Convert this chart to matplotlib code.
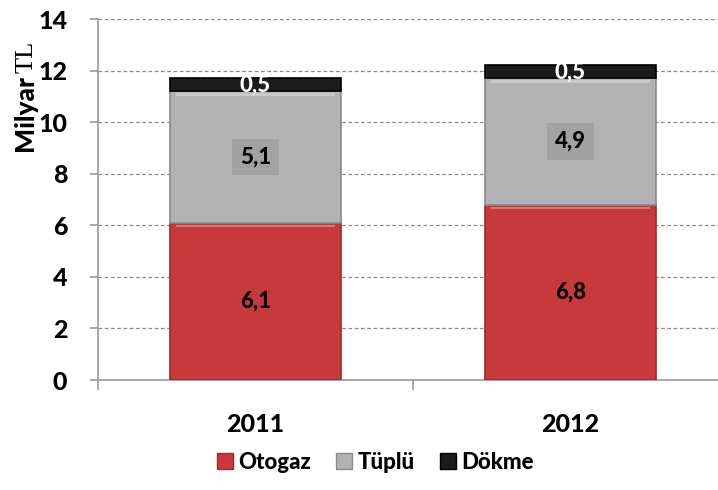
import numpy as np
import matplotlib
matplotlib.use("Agg")
import matplotlib.pyplot as plt
from matplotlib.lines import Line2D

years = ["2011", "2012"]
otogaz = [6.1, 6.8]
tuplu = [5.1, 4.9]
dokme = [0.5, 0.5]
series_names = ["Otogaz", "Tüplü", "Dökme"]
colors = ["#c8393b", "#b2b2b2", "#1c1c1c"]
edges = ["#9e2a2c", "#8a8a8a", "#000000"]

plt.rcParams["font.family"] = ["Lato", "DejaVu Sans"]
WT = "black"

fig = plt.figure(figsize=(7.18, 4.90), dpi=100)
ax = fig.add_axes([98 / 718, 1 - 380 / 490, 630 / 718, 361 / 490])

x = np.arange(len(years))
w = 0.54
bottoms = np.zeros(len(years))
for k, (vals, c, ec) in enumerate(zip([otogaz, tuplu, dokme], colors, edges)):
    ax.bar(x, vals, w, bottom=bottoms, color=c, edgecolor=ec, linewidth=1.2, zorder=3)
    if k < 2:
        # light bevel along the top of the red and grey segments
        ax.bar(x, [0.1] * len(x), w * 0.94, bottom=bottoms + np.array(vals) - 0.18,
               color="white", alpha=0.3, linewidth=0, zorder=4)
    bottoms = bottoms + np.array(vals)

fmt = lambda v: ("%.1f" % v).replace(".", ",")
for i in range(len(years)):
    ax.text(x[i], otogaz[i] / 2, fmt(otogaz[i]), ha="center", va="center",
            fontsize=16, fontweight=WT, color="black", zorder=5)
    ax.text(x[i], otogaz[i] + tuplu[i] / 2, fmt(tuplu[i]), ha="center", va="center",
            fontsize=16, fontweight=WT, color="black", zorder=5,
            bbox=dict(boxstyle="square,pad=0.35", facecolor="#a2a2a2", edgecolor="none"))
    ax.text(x[i], otogaz[i] + tuplu[i] + dokme[i] / 2, fmt(dokme[i]), ha="center", va="center",
            fontsize=16, fontweight=WT, color="white", zorder=5)

ax.set_ylim(0, 14)
ax.set_xlim(-0.5, 1.5)
ax.set_yticks(np.arange(0, 15, 2))
ax.set_yticklabels([str(v) for v in range(0, 15, 2)], fontsize=18, fontweight=WT)
ax.set_xticks(x)
ax.set_xticklabels(years, fontsize=18, fontweight=WT)
ax.set_xticks([-0.5, 0.5, 1.5], minor=True)
ax.tick_params(axis="x", which="major", length=0, pad=24)
ax.tick_params(axis="x", which="minor", length=7, color="#999999", width=1.2)
ax.tick_params(axis="y", length=6, color="#999999", width=1.2, pad=16)

for y in range(2, 15, 2):
    ax.axhline(y, color="#8c8c8c", lw=0.9, ls=(0, (3, 2)), zorder=1)

for s in ["top", "right"]:
    ax.spines[s].set_visible(False)
for s in ["left", "bottom"]:
    ax.spines[s].set_color("#999999")
    ax.spines[s].set_linewidth(1.2)

fig.text(25 / 718, 1 - 113 / 490, "Milyar", rotation=90, ha="center", va="center",
         fontsize=19, fontweight=WT)
fig.text(27 / 718, 1 - 57 / 490, "TL", rotation=90, ha="center", va="center",
         fontsize=19, fontweight="normal", family="Liberation Serif")

handles = [Line2D([0], [0], marker="s", ls="", markersize=12, markerfacecolor=c,
                  markeredgecolor=ec) for c, ec in zip(colors, edges)]
fig.legend(handles, series_names, loc="center", bbox_to_anchor=(374 / 718, 1 - 462 / 490),
           ncol=3, frameon=False, handletextpad=0.1, columnspacing=1.0,
           handlelength=1.0, prop={"weight": WT, "size": 16})

fig.savefig("out.png", dpi=100)
